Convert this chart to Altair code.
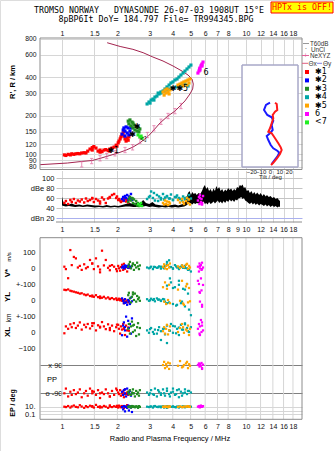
import altair as alt
import pandas as pd

NAN = float("nan")

# ---------------- data ----------------
FREQ_TICKS = [1, 1.5, 2, 3, 4, 5, 6, 7, 8, 10, 12, 14, 16, 18]
FREQ_TICKS_MID = [1, 1.5, 2, 3, 4, 5, 6, 7, 8, 9, 10, 12, 14, 16, 18]
HEIGHT_TICKS = [80, 90, 100, 120, 150, 200, 300, 400, 600, 800]
DBE_TICKS = [20, 40, 60, 80, 100]
TILT_TICKS = [-20, -10, 0, 10, 20]

CLASSES = ["✱1", "✱2", "✱3", "✱4", "✱5", "\u2007\u00a06", "<7"]
CLASS_COLORS = ["#ff0000", "#0000ff", "#228b22", "#00a6a6", "#ffa500", "#ff00ff", "#22ee22"]

# echo cluster *1 (red)
red_f = [1.03,1.05,1.08,1.11,1.13,1.16,1.19,1.22,1.25,1.28,1.32,1.35,1.38,1.42,1.46,1.49,1.53,1.57,1.61,1.65,1.69,1.73,1.78,1.82,1.87,1.92,1.97,2.02,2.04,2.07,2.09,2.12,2.15,2.17,2.20,2.23,2.26,2.29,1.46,1.61,1.82,1.99,2.17,2.31]
red_h = [99,98,100,99,101,100,101,101.5,101,102.5,103,102.5,106,110,113,115,112,106,108,105,108,109,107,110,112,114,118,123,127,132,137,142,147,139,132,127,134,129,108,104,106,116,152,137]
red_amp = [50,54,48,56,52,58,50,55,53,57,51,59,54,56,60,52,58,55,53,61,57,50,59,62,66,68,60,56,58,55,52,57,54,60,58,53,56,51,59,49,61,63,55,57]
red_vs = [10,-5,-62,114,20,71,62,5,15,-10,25,0,8,52,30,-5,62,12,-8,110,18,52,3,-12,20,10,-5,15,0,-15,8,22,-10,5,-3,12,-20,6,30,-25,15,-18,28,2]
red_yl = [64,62,66,58,55,52,48,45,40,42,35,30,34,25,28,20,30,18,22,14,20,10,16,8,12,5,10,2,8,-2,5,-5,0,-8,4,-10,-3,-15,22,12,6,0,-20,-6]
red_xl = [-8,35,20,48,30,55,25,40,60,15,45,30,50,22,38,55,10,42,28,62,35,18,48,25,40,5,30,45,20,-10,35,15,50,25,-19,40,10,28,55,33,12,46,20,8]
red_pp = [-90,-60,-110,-80,-100,-70,-95,-85,-65,-115,-90,-75,-105,-60,-90,-80,-100,-70,-120,-85,-95,-65,-90,-110,-75,-100,-60,-85,-95,-70,-105,-90,-80,-115,-65,-95,-85,-100,-75,-90,-110,-70,-95,-80]
red_ep = [10,8,15,6,12,20,9,7,25,11,5,14,8,18,10,6,30,9,12,7,16,10,5,22,8,13,9,6,19,11,7,15,10,4,12,8,26,9,14,6,11,17,8,10]

# echo cluster *2 (blue)
blue_f = [2.12,2.15,2.17,2.20,2.23,2.26,2.29,2.31,2.34,2.37,2.40,2.20]
blue_h = [144,155,161,152,164,147,161,142,152,161,144,139]
blue_amp = [58,62,55,64,60,66,57,63,59,68,56,61]
blue_vs = [5,12,0,18,8,15,3,20,10,2,14,6]
blue_yl = [10,-5,-20,5,-15,-30,0,-10,-25,15,-8,-18]
blue_xl = [-20,40,60,10,96,-29,70,25,50,-10,85,30]
blue_pp = [-80,-100,-70,-90,-110,-60,-95,-85,-75,-105,-90,-65]
blue_ep = [8,2,15,0.6,10,5,20,1,12,6,0.4,9]

# echo cluster *3 (dark green)
green_f = [2.29,2.31,2.34,2.37,2.40,2.43,2.46,2.49,2.53,2.56,2.59,2.62,2.65,2.43]
green_h = [182,173,186,167,179,161,170,155,164,152,161,150,158,176]
green_amp = [52,58,62,55,60,50,57,48,54,45,50,44,47,59]
green_vs = [10,25,40,0,15,30,-10,20,5,35,12,-5,18,28]
green_yl = [30,45,10,-15,20,35,0,40,-10,25,5,15,-5,47]
green_xl = [20,50,-10,35,65,0,45,10,-25,30,55,-15,25,40]
green_pp = [-80,-95,-70,-100,-85,-65,-90,-110,-75,-95,-85,-105,-70,-90]
green_ep = [10,8,12,6,15,9,11,7,13,10,5,14,9,12]

# echo cluster *4 (teal)
teal_f = [2.90,2.97,3.05,3.12,3.20,3.28,3.37,3.45,3.54,3.63,3.72,3.82,3.91,4.01,4.11,4.22,4.32,4.43,4.55,4.66,4.78,4.90,5.02,
          3.33,3.45,3.59,3.72,3.86,4.01,4.17,4.32,4.49,4.66,4.84,3.01,3.16]
teal_h = [248,257,266,271,281,286,297,302,313,325,337,349,362,369,382,389,403,418,433,449,466,483,500,
          302,308,313,319,325,331,337,343,349,355,343,252,266]
teal_amp = [58,62,73,60,55,66,63,57,68,61,64,59,67,56,62,65,60,58,63,57,61,66,59,
            54,60,57,63,59,56,62,58,55,60,57,64,70]
teal_vs = [5,0,10,-5,8,3,12,-2,6,15,40,50,8,0,20,5,-5,10,3,15,0,-8,-20,
           5,10,0,25,8,-3,12,6,18,2,-10,4,9]
teal_yl = [5,-5,8,0,-8,10,3,-3,6,-10,90,-15,110,-25,80,-30,120,-20,70,-40,100,-60,-95,
           2,-6,4,-20,135,75,-35,95,-10,65,40,-2,6]
teal_xl = [10,-5,25,0,15,-10,30,5,20,-15,40,10,50,-5,35,20,-19,45,15,54,25,0,30,
           12,-50,22,-69,8,38,-8,28,15,48,5,18,-12]
teal_pp = [-85,-100,-70,-95,-60,-110,-80,-90,-65,-105,-75,-95,-85,-60,-100,-70,-115,-80,-90,-65,-95,-75,-85,
           -70,-100,-90,-60,-110,-80,-95,-65,-105,-85,-75,-90,-100]
teal_ep = [10,8,12,6,15,9,11,7,13,10,5,14,9,12,8,11,6,10,13,7,9,12,10,
           8,11,6,14,9,10,7,12,8,11,9,10,13]

# echo cluster *5 (orange)
orange_f = [3.54,3.59,3.63,3.68,3.72,3.77,3.82,3.86,4.27,4.38,4.49,4.60,4.72,4.84,4.90,4.96,4.78,4.55]
orange_h = [308,291,319,302,325,308,297,319,349,355,362,369,375,382,362,389,349,343]
orange_amp = [50,47,55,48,53,46,52,49,56,51,58,48,54,50,57,47,60,52]
orange_vs = [10,25,0,15,-5,20,5,30,12,2,18,8,22,-3,15,5,28,10]
orange_yl = [80,-10,110,-25,70,0,95,-20,65,-5,120,-30,85,-15,75,-8,100,-22]
orange_xl = [5,30,-10,20,45,-15,10,35,0,25,50,-5,15,40,-19,20,8,30]
orange_pp = [90,110,70,95,80,105,65,100,85,115,75,90,100,70,95,85,110,80]
orange_ep = [10,8,12,9,11,7,13,10,9,12,8,11,10,14,9,10,12,8]

# echo cluster 6 (magenta)
mag_f = [5.48,5.55,5.59,5.62,5.69,5.73,5.77,5.84,5.62,5.77]
mag_h = [433,449,466,474,492,500,510,528,457,492]
mag_amp = [55,62,48,66,52,58,50,64,60,47]
mag_vs = [10,-20,30,0,20,-10,35,5,15,-5]
mag_yl = [120,100,50,-10,135,60,-30,94,45,-42]
mag_xl = [20,50,-10,35,75,0,60,10,-19,40]
mag_pp = [90,100,80,95,85,103,70,92,88,65]
mag_ep = [10,15,8,12,20,9,11,14,7,10]

# echo cluster <7 (light green)
lgreen_f = [2.59,2.65,2.69,2.72]
lgreen_h = [142,137,139,134]
lgreen_amp = [48,45,50,44]

# real-height profile (maroon) and NeXYZ points (pink)
prof_f = [0.76,1.07,1.28,1.46,1.61,1.82,2.02,2.23,2.43,2.65,2.93,3.12,3.41,3.77,4.11,4.38,4.66,4.96,5.13,5.17,5.09,4.84,4.49,4.01,3.54,3.12,2.76,2.43,2.07,1.76]
prof_h = [83,85.5,88,89.5,93,98,102.5,108,114,123,138,152,176,200,218,239,262,297,325,355,389,418,449,492,538,578,625,664,699,748]
ne_f = [1.28,1.45,1.61,1.75,1.94,2.20,2.42,2.65,2.91,3.16,3.45,3.77,4.11,4.43]
ne_h = [83.5,88.6,93.1,97.0,101.9,108.1,113.5,127.9,141.7,159.9,180,199.6,218,239]

# tilt inset
tiltx_h = [253.6,247.8,222.4,215.7,203.3,191.4,175,159.9,150.3,146.1,133.5,122,113.5,108.1,100.7,92.6,86,82.5]
tiltx_deg = [5.4,7.2,7.8,5.4,2.9,3.5,1.8,0,-1.8,1.8,5.4,8.9,11.5,12.5,10.7,7.2,3.5,1.1]
tilty_h = [253.6,243.4,222.4,203.3,195,183.4,169.7,155.1,146.1,139.2,129.4,118.3,111.4,106.7,103,95.8,89.1,84]
tilty_deg = [0,-4.3,-6.4,-2.9,1.8,3.5,1.8,2.9,0,-3.5,-1.8,0.75,3.5,7.8,10,7.8,4.3,1.8]

# background amplitude trace (black band, dB)
noise_f = [1.00,1.02,1.05,1.09,1.13,1.18,1.24,1.30,1.37,1.44,1.51,1.59,1.67,1.75,1.84,1.93,2.02,2.12,2.22,2.33,
           2.44,2.55,2.66,2.76,2.86,2.98,3.10,3.22,3.36,3.50,3.65,3.80,3.96,4.12,4.28,4.45,4.62,4.74,4.84,4.93,
           5.02,5.11,5.20,5.30,5.40,5.52,5.64,5.76,5.88,5.98,6.08,6.18,6.30,6.42,6.54,6.66,6.78,6.90,7.02,7.15,
           7.28,7.42,7.56,7.70,7.85,8.00,8.15,8.30,8.46,8.62,8.78,8.94,9.10,9.26,9.42,9.58,9.74,9.90,10.1,10.3,
           10.5,10.7,10.9,11.1,11.3,11.5,11.8,12.0,12.3,12.5,12.8,13.0,13.3,13.6,13.9,14.2,14.5,14.8,15.1,15.3]
noise_lo = [45,44,43,44,43,42,43,42,43,42,41,42,41,42,41,42,41,42,43,43,
            42,42,43,43,44,42,43,42,41,42,41,42,41,42,41,42,43,45,48,51,
            49,47,50,48,50,49,51,50,53,48,50,47,52,48,50,53,49,52,55,50,
            53,49,54,50,55,52,57,53,56,52,57,55,59,60,62,58,60,55,53,50,
            48,51,47,50,46,49,45,48,46,44,47,43,46,42,45,42,44,41,43,42]
noise_hi = [63,50,48,47,49,46,47,45,47,46,45,45,44,46,44,45,44,46,48,50,
            48,51,49,56,50,48,52,47,46,45,46,45,46,47,45,47,49,60,70,74,
            66,72,68,70,66,70,68,74,82,86,78,82,74,78,72,79,74,84,78,82,
            74,78,72,77,74,80,76,79,74,78,75,82,80,86,84,87,80,82,74,76,
            70,74,68,72,67,71,66,70,64,68,63,66,62,64,60,62,58,60,56,54]

# annotations in the height panel
ann_text = ["✱1", "✱", "✱", "◁", "✱✱5", "6"]
ann_f = [1.90, 2.42, 2.56, 2.76, 4.32, 6.06]
ann_h = [107, 143, 163, 131, 322, 433]

# ---------------- tables ----------------
def cluster(name, f, h, amp, vs=None, yl=None, xl=None, pp=None, ep=None):
    n = len(f)
    col = lambda v: v if v is not None else [NAN] * n
    return pd.DataFrame({"cl": name, "f": f, "h": h, "amp": amp, "vs": col(vs), "yl": col(yl),
                         "xl": col(xl), "pp": col(pp), "ep": col(ep)})

echo = pd.concat([
    cluster(CLASSES[0], red_f, red_h, red_amp, red_vs, red_yl, red_xl, red_pp, red_ep),
    cluster(CLASSES[1], blue_f, blue_h, blue_amp, blue_vs, blue_yl, blue_xl, blue_pp, blue_ep),
    cluster(CLASSES[2], green_f, green_h, green_amp, green_vs, green_yl, green_xl, green_pp, green_ep),
    cluster(CLASSES[6], lgreen_f, lgreen_h, lgreen_amp),
    cluster(CLASSES[3], teal_f, teal_h, teal_amp, teal_vs, teal_yl, teal_xl, teal_pp, teal_ep),
    cluster(CLASSES[4], orange_f, orange_h, orange_amp, orange_vs, orange_yl, orange_xl, orange_pp, orange_ep),
    cluster(CLASSES[5], mag_f, mag_h, mag_amp, mag_vs, mag_yl, mag_xl, mag_pp, mag_ep),
], ignore_index=True)

prof = pd.DataFrame({"i": range(len(prof_f)), "f": prof_f, "h": prof_h})
ne = pd.DataFrame({"f": ne_f, "h": ne_h})
tx = pd.DataFrame({"i": range(len(tiltx_h)), "h": tiltx_h, "t": tiltx_deg})
ty = pd.DataFrame({"i": range(len(tilty_h)), "h": tilty_h, "t": tilty_deg})
noise = pd.DataFrame({"f": noise_f, "lo": noise_lo, "hi": noise_hi})
ann = pd.DataFrame({"s": ann_text, "f": ann_f, "h": ann_h})
ticks_bottom = pd.DataFrame({"f": FREQ_TICKS})

# ---------------- layout / styles ----------------
W, H = 335, 451
L, R = 40, 302
FONT = "Liberation Sans"
MONO = "DejaVu Sans Mono"
GRID = "#d6d6d6"
FRAME = "#8c8c8c"
MAROON = "#a3244f"
PINK = "#e0609a"

xF = alt.Scale(type="log", domain=[0.7594, 20.155], range=[L, R], nice=False)
xFd = alt.Scale(type="log", domain=[0.9277, 20.155], range=[56, R], nice=False)
yTop = alt.Scale(type="log", domain=[76.1, 814.5], range=[169.5, 38], nice=False)
yIns = alt.Scale(type="log", domain=[79.6, 500.5], range=[167, 65], nice=False)
xTilt = alt.Scale(domain=[-30, 30], range=[242, 298], nice=False, zero=False)
yDbe = alt.Scale(domain=[12, 115], range=[222, 170.5], nice=False, zero=False)
yVs = alt.Scale(domain=[-100, 100], range=[284.3, 252.3], nice=False, zero=False)
yYl = alt.Scale(domain=[-100, 100], range=[316, 284], nice=False, zero=False)
yXl = alt.Scale(domain=[-100, 100], range=[348, 316], nice=False, zero=False)
yPp = alt.Scale(domain=[-90, 90], range=[393.3, 365], nice=False, zero=False)
yEp = alt.Scale(type="log", domain=[0.1, 10], range=[414.3, 406.7], nice=False)

color_enc = alt.Color("cl:N", scale=alt.Scale(domain=CLASSES, range=CLASS_COLORS),
                      legend=alt.Legend(orient="none", legendX=303, legendY=68, title=None,
                                        symbolType="square", symbolSize=16, symbolStrokeWidth=0,
                                        labelFont="DejaVu Sans", labelFontSize=8, labelColor="#000",
                                        rowPadding=0.4, labelOffset=4, padding=0))

def lab_axis(orient, offset, values, pad=3, size=7, **kw):
    return alt.Axis(orient=orient, offset=offset, values=values, grid=False, ticks=False, domain=False,
                    labelPadding=pad, labelFont=FONT, labelFontSize=size, labelColor="#111",
                    labelOverlap=False, labelFlush=False, title=None, **kw)

def grid_axis(orient, offset, values, color=GRID):
    return alt.Axis(orient=orient, offset=offset, values=values, grid=True, gridColor=color, gridWidth=1,
                    labels=False, ticks=False, domain=False, title=None)

def one():
    return alt.Chart(pd.DataFrame({"k": [0]}))

def box(x1, y1, x2, y2, stroke=FRAME, fill=None):
    m = one().mark_rect(stroke=stroke, strokeWidth=1, fill=fill if fill else "white",
                        fillOpacity=1 if fill else 0)
    return m.encode(x=alt.value(x1), x2=alt.value(x2), y=alt.value(y1), y2=alt.value(y2))

def hline(x1, x2, y, color, w=1):
    return one().mark_rule(color=color, strokeWidth=w).encode(x=alt.value(x1), x2=alt.value(x2), y=alt.value(y))

def txt(s, x, y, size=7.5, font=FONT, color="#000", align="center", angle=0, weight="normal"):
    return alt.Chart(pd.DataFrame({"s": [s]})).mark_text(
        x=x, y=y, fontSize=size, font=font, color=color, align=align, angle=angle,
        fontWeight=weight, baseline="middle").encode(text="s:N")

layers = []

# ---- height panel ----
layers.append(alt.Chart(prof).mark_line(color=MAROON, strokeWidth=1).encode(
    x=alt.X("f:Q", scale=xF, axis=alt.Axis(orient="top", offset=-38, values=FREQ_TICKS, format="~g",
            grid=True, gridColor=GRID, ticks=False, domain=False, labelPadding=2, labelFont=FONT,
            labelFontSize=7, labelColor="#111", labelOverlap=False, labelFlush=False, title=None)),
    y=alt.Y("h:Q", scale=yTop, axis=alt.Axis(orient="left", offset=-L, values=HEIGHT_TICKS, format="~g",
            grid=True, gridColor=GRID, ticks=False, domain=False, labelPadding=4, labelFont=FONT,
            labelFontSize=6.8, labelColor="#111", labelOverlap=False, labelFlush=False, title=None)),
    order="i:Q"))
layers.append(alt.Chart(ne).mark_point(shape="M-0.6,-1H0.6M0,-1V1M-0.6,1H0.6", size=28, filled=False,
                                       color=PINK, strokeWidth=1).encode(
    x=alt.X("f:Q", scale=xF, axis=None), y=alt.Y("h:Q", scale=yTop, axis=None)))
layers.append(alt.Chart(echo).mark_square(size=10, opacity=1).encode(
    x=alt.X("f:Q", scale=xF, axis=None), y=alt.Y("h:Q", scale=yTop, axis=None), color=color_enc))
layers.append(alt.Chart(ann).mark_text(font="DejaVu Sans", fontSize=8, color="#000", align="center").encode(
    x=alt.X("f:Q", scale=xF, axis=None), y=alt.Y("h:Q", scale=yTop, axis=None), text="s:N"))
layers.append(box(L, 38, R, 169.5))

# ---- tilt inset ----
layers.append(box(242, 65, 298, 167, stroke="#a8a8c8", fill="white"))
layers.append(alt.Chart(ty).mark_line(color="#1a1aff", strokeWidth=2).encode(
    x=alt.X("t:Q", scale=xTilt, axis=grid_axis("top", -65, TILT_TICKS, "#b4b4d4")),
    y=alt.Y("h:Q", scale=yIns, axis=None), order="i:Q"))
layers.append(alt.Chart(tx).mark_line(color="#ff1a1a", strokeWidth=2).encode(
    x=alt.X("t:Q", scale=xTilt, axis=alt.Axis(orient="bottom", offset=167 - H, values=TILT_TICKS,
            grid=False, ticks=False, domain=False, labelPadding=1, labelFont=FONT, labelFontSize=6,
            labelColor="#222", labelOverlap=False, labelFlush=False, title="Tilt / deg",
            titleFont=FONT, titleFontSize=6, titleFontWeight="normal", titleColor="#222", titlePadding=-1)),
    y=alt.Y("h:Q", scale=yIns, axis=None), order="i:Q"))
layers.append(box(242, 65, 298, 167, stroke="#a8a8c8"))

# ---- amplitude panel ----
layers.append(alt.Chart(noise).mark_area(color="#000", opacity=1).encode(
    x=alt.X("f:Q", scale=xFd, axis=grid_axis("top", -170.5, FREQ_TICKS_MID)),
    y=alt.Y("lo:Q", scale=yDbe, axis=alt.Axis(orient="left", offset=-56, values=DBE_TICKS, grid=True,
            gridColor={"condition": {"test": "datum.value === 20", "value": "#aab0ee"}, "value": "#c4c4c4"},
            ticks=False, domain=False, labelPadding=2, labelFont=FONT, labelFontSize=7.5, labelColor="#111",
            labelOverlap=False, labelFlush=False, title=None,
            labelExpr="datum.value === 80 ? 'dBe 80' : datum.value === 20 ? 'dBn 20' : datum.label")),
    y2="hi:Q"))
layers.append(alt.Chart(echo).mark_square(size=6, opacity=1).encode(
    x=alt.X("f:Q", scale=xFd, axis=lab_axis("bottom", 222 - H, FREQ_TICKS_MID, pad=3, format="~g")),
    y=alt.Y("amp:Q", scale=yDbe, axis=None), color=color_enc))
layers.append(hline(56, R, 222, FRAME))

# ---- echo parameter panel ----
layers.append(alt.Chart(ticks_bottom).mark_rule(color=GRID, strokeWidth=1).encode(
    x=alt.X("f:Q", scale=xF, axis=None), y=alt.value(237.7), y2=alt.value(419.3)))
layers.append(alt.Chart(echo).mark_square(size=5, opacity=1).encode(
    x=alt.X("f:Q", scale=xF, axis=lab_axis("bottom", 419.3 - H, FREQ_TICKS, pad=3, format="~g")),
    y=alt.Y("vs:Q", scale=yVs, axis=lab_axis("left", -L, [0, 100], pad=5, size=7.5)),
    color=color_enc))
layers.append(alt.Chart(echo).mark_square(size=5, opacity=1).encode(
    x=alt.X("f:Q", scale=xF, axis=None),
    y=alt.Y("yl:Q", scale=yYl, axis=lab_axis("left", -L, [0, 100], pad=5, size=7.5,
            labelExpr="datum.value === 100 ? '+-100' : datum.label")),
    color=color_enc))
layers.append(alt.Chart(echo).mark_square(size=5, opacity=1).encode(
    x=alt.X("f:Q", scale=xF, axis=None),
    y=alt.Y("xl:Q", scale=yXl, axis=lab_axis("left", -L, [-100, 0, 100], pad=5, size=7.5,
            labelExpr="datum.value === 100 ? '+-100' : datum.label")),
    color=color_enc))
layers.append(alt.Chart(echo).mark_square(size=5, opacity=1).encode(
    x=alt.X("f:Q", scale=xF, axis=None),
    y=alt.Y("pp:Q", scale=yPp, axis=alt.Axis(orient="left", offset=-64, values=[-90, 90], grid=True,
            gridColor="#808080", ticks=False, domain=False, labelPadding=2, labelFont=FONT, labelFontSize=7.5,
            labelColor="#111", labelOverlap=False, labelFlush=False, title=None,
            labelExpr="datum.value === 90 ? 'x 90' : 'o -90'")),
    color=color_enc))
layers.append(alt.Chart(echo).mark_square(size=5, opacity=1).encode(
    x=alt.X("f:Q", scale=xF, axis=None),
    y=alt.Y("ep:Q", scale=yEp, axis=alt.Axis(orient="left", offset=-L, values=[0.1, 1, 10], grid=True,
            gridColor=GRID, ticks=False, domain=False, labelPadding=5, labelFont=FONT, labelFontSize=7.5,
            labelColor="#111", labelOverlap=False, labelFlush=False, title=None,
            labelExpr="datum.value === 10 ? '10.' : datum.value === 0.1 ? '0.1' : ''")),
    color=color_enc))
layers.append(box(L, 237.7, R, 419.3))

# ---- texts ----
layers += [
    txt("TROMSO NORWAY\u00a0\u00a0\u00a0DYNASONDE 26-07-03 1908UT 15°E", 149, 11, size=8.3, font=MONO),
    txt("8pBP6It DoY= 184.797 File= TR994345.BPG", 156, 20, size=8.3, font=MONO),
    box(271, 2, 333, 13, stroke="#ff0000", fill="#ffff00"),
    txt("HPTx is OFF!", 302, 7.5, size=8.3, font=MONO, color="#ff0000"),
    txt("R', R / km", 13, 82, size=7.5, angle=270, weight="bold"),
    hline(303, 309, 43.5, "#999999"),
    txt("T60dB", 310, 43.5, size=6.3, align="left", color="#333"),
    txt("·", 306, 48.5, size=7, color="#333"),
    txt("UnCl", 311, 49.5, size=6.3, align="left", color="#333"),
    hline(302, 309, 55.5, PINK),
    txt("+", 305.5, 55.5, size=7, color=PINK),
    txt("NeXYZ", 310, 55.5, size=6.3, align="left", color="#333"),
    hline(302, 308, 63.3, "#e06080"),
    txt("Θx", 308.5, 63.5, align="left", color="#333", size=6.5),
    hline(317, 322, 63.3, "#8080e0"),
    txt("Θy", 323, 63.5, align="left", color="#333", size=6.5),
    txt("V*", 8, 273, size=8, angle=270, weight="bold"),
    txt("m/s", 9, 257, size=6, angle=270),
    txt("YL", 8, 297, size=8, angle=270, weight="bold"),
    txt("km", 9, 318, size=6.5, angle=270),
    txt("XL", 8, 332, size=8, angle=270, weight="bold"),
    txt("PP", 47, 379.5, size=7.5, align="left"),
    txt("EP / deg", 13, 403, size=7, angle=270, weight="bold"),
    txt("Radio and Plasma Frequency / MHz", 170, 439, size=7.5),
]

chart = alt.layer(*layers).resolve_scale(x="independent", y="independent").resolve_axis(
    x="independent", y="independent").properties(
    width=W, height=H, padding=0, autosize=alt.AutoSizeParams(type="none")).configure_view(
    stroke=None).configure(background="white")

chart.save("out.html", embed_options={"renderer": "svg", "actions": False})
